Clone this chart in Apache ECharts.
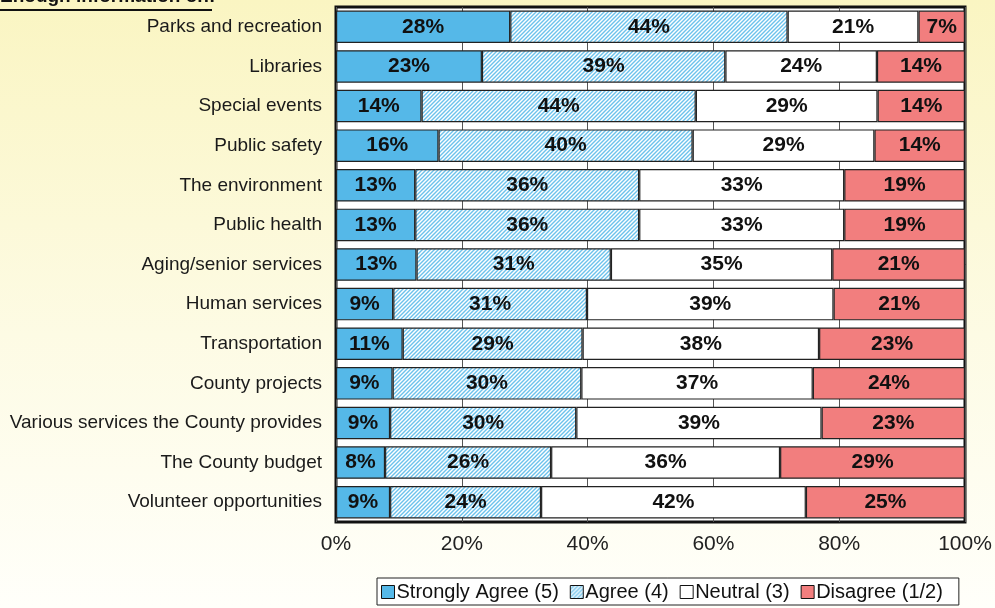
<!DOCTYPE html>
<html>
<head>
<meta charset="utf-8">
<script src="https://cdn.jsdelivr.net/npm/echarts@6/dist/echarts.min.js"></script>
<style>
  html, body { margin: 0; padding: 0; }
  body { background: linear-gradient(to bottom, #faf5c2 0%, #fdfbe4 55%, #fffffa 100%); }
  #main { width: 995px; height: 608px; }
</style>
</head>
<body>
<div id="main"></div>
<script>
var categories = [
  'Parks and recreation', 'Libraries', 'Special events', 'Public safety',
  'The environment', 'Public health', 'Aging/senior services', 'Human services',
  'Transportation', 'County projects', 'Various services the County provides',
  'The County budget', 'Volunteer opportunities'
]
var stronglyAgree = [27.7, 23.2, 13.6, 16.3, 12.6, 12.6, 12.8, 9.1, 10.6, 9.0, 8.6, 7.8, 8.6]
var agree = [44.1, 38.7, 43.6, 40.4, 35.6, 35.6, 30.9, 30.8, 28.6, 30.0, 29.6, 26.4, 24.0]
var neutral = [20.8, 24.1, 28.9, 28.9, 32.6, 32.6, 35.2, 39.2, 37.6, 36.8, 39.0, 36.4, 42.1]
var disagree = [7.4, 14.0, 13.9, 14.4, 19.2, 19.2, 21.1, 20.9, 23.2, 24.2, 22.8, 29.4, 25.3]
var xTicks = [0, 20, 40, 60, 80, 100]

var FONT = 'Liberation Sans, Arial, sans-serif'

// hatch pattern for the "Agree" segments
function hatch() {
  var c = document.createElement('canvas')
  c.width = 4
  c.height = 4
  var ctx = c.getContext('2d')
  ctx.fillStyle = '#ffffff'
  ctx.fillRect(0, 0, 4, 4)
  ctx.strokeStyle = '#6cc2ec'
  ctx.lineWidth = 1.4
  ctx.beginPath()
  ctx.moveTo(-1, 5); ctx.lineTo(5, -1)
  ctx.moveTo(-1, 1); ctx.lineTo(1, -1)
  ctx.moveTo(3, 5); ctx.lineTo(5, 3)
  ctx.stroke()
  return { image: c, repeat: 'repeat' }
}

var chartDom = document.getElementById('main')
var myChart = echarts.init(chartDom, null, { renderer: 'canvas' })

var label = {
  show: true,
  position: 'inside',
  color: '#111',
  fontFamily: FONT,
  fontWeight: 'bold',
  fontSize: 21,
  formatter: function (p) { return Math.round(p.value) + '%' }
}
function makeSeries(name, data, color) {
  return {
    name: name,
    type: 'bar',
    stack: 'total',
    barCategoryGap: '18%',
    data: data,
    label: label,
    itemStyle: { color: color, borderColor: '#222', borderWidth: 1.2 },
    emphasis: { disabled: true }
  }
}

var option = {
  backgroundColor: 'transparent',
  animation: false,
  textStyle: { fontFamily: FONT },
  graphic: [
    {
      type: 'text',
      left: 0,
      top: -13,
      style: { text: 'Enough information on:', font: 'bold 19px ' + FONT, fill: '#111' }
    },
    {
      type: 'rect',
      shape: { x: 0, y: 9, width: 212, height: 2 },
      style: { fill: '#111' }
    }
  ],
  grid: {
    left: 336,
    right: 30,
    top: 7,
    height: 515,
    show: true,
    backgroundColor: '#ffffff',
    borderColor: '#111',
    borderWidth: 3
  },
  legend: {
    left: 377,
    top: 578,
    padding: [4, 16, 3, 4],
    itemGap: 11,
    itemWidth: 13,
    itemHeight: 13,
    borderColor: '#222',
    borderWidth: 1,
    backgroundColor: '#ffffff',
    icon: 'rect',
    itemStyle: { borderColor: '#111', borderWidth: 1 },
    textStyle: { fontSize: 20, color: '#111', padding: [0, 0, 0, -3] }
  },
  xAxis: {
    type: 'value',
    min: xTicks[0],
    max: xTicks[xTicks.length - 1],
    interval: 20,
    axisLine: { show: false },
    axisTick: { show: false },
    splitLine: { show: true, lineStyle: { color: '#555', width: 1 } },
    axisLabel: { fontSize: 21, color: '#222', margin: 12, formatter: '{value}%' }
  },
  yAxis: {
    type: 'category',
    inverse: true,
    data: categories,
    axisLine: { show: false },
    axisTick: { show: false },
    axisLabel: { fontSize: 19, color: '#1a1a1a', margin: 14 }
  },
  series: [
    makeSeries('Strongly Agree (5)', stronglyAgree, '#55b8e8'),
    makeSeries('Agree (4)', agree, hatch()),
    makeSeries('Neutral (3)', neutral, '#ffffff'),
    makeSeries('Disagree (1/2)', disagree, '#f27e7e')
  ]
}
option && myChart.setOption(option)
</script>
</body>
</html>
